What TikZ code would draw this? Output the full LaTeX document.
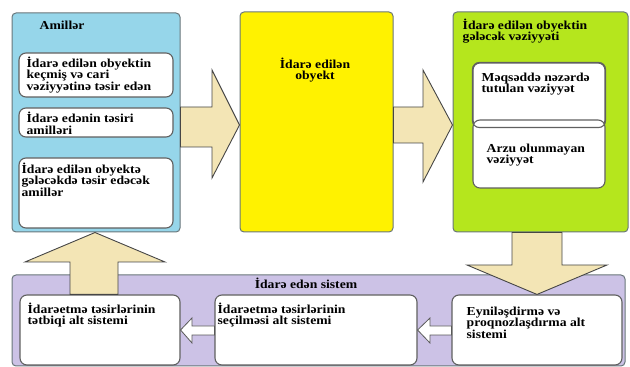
\documentclass[tikz,border=0pt]{standalone}
\usepackage{fontspec}
\setmainfont{Liberation Serif}
\newfontfamily\diagfont[FakeStretch=1.12]{Liberation Serif}
\usetikzlibrary{calc}

\definecolor{amilblue}{RGB}{150,214,234}
\definecolor{objyellow}{RGB}{255,242,0}
\definecolor{futgreen}{RGB}{181,230,29}
\definecolor{syslilac}{RGB}{204,194,230}
\definecolor{arrowtan}{RGB}{243,229,181}
\definecolor{edgegray}{RGB}{105,118,122}

\tikzset{
	outerbox/.style={draw=edgegray, line width=1pt, rounded corners=4pt, inner sep=0pt},
	innerbox/.style={draw=gray!75!black, line width=1.1pt, fill=white, rounded corners=7pt, inner sep=0pt},
	txt/.style={font=\diagfont\bfseries\fontsize{12.2}{11.6}\selectfont, align=left, inner sep=0pt, anchor=north west},
	bigarrow/.style={draw=gray!55!black, fill=arrowtan, line width=0.9pt},
	smallarrow/.style={draw=gray!70!black, fill=white, line width=0.8pt}
}

\begin{document}
\begin{tikzpicture}[x=1pt,y=1pt]
	\useasboundingbox (0,0) rectangle (630,367);

	% top row
	\node[outerbox, fill=amilblue, minimum width=168, minimum height=219] (amil) at (96,244.5) {};
	\node[outerbox, fill=objyellow, minimum width=153, minimum height=220] (obj) at (316.5,245) {};
	\node[outerbox, fill=futgreen, minimum width=175, minimum height=220] (fut) at (540.5,245) {};

	\node[txt] (amil_t) at ([shift={(28,-8)}]amil.north west) {Amillər};
	\node[innerbox, minimum width=154, minimum height=44] (f_1) at (96,292) {};
	\node[innerbox, minimum width=154, minimum height=29] (f_2) at (96,244.5) {};
	\node[innerbox, minimum width=154, minimum height=70] (f_3) at (96,174) {};
	\node[txt] (f_1t) at ([shift={(8,-4)}]f_1.north west) {İdarə edilən obyektin\\keçmiş və cari\\vəziyyətinə təsir edən};
	\node[txt] (f_2t) at ([shift={(8,-4.5)}]f_2.north west) {İdarə edənin təsiri\\amilləri};
	\node[txt] (f_3t) at ([shift={(3,-5)}]f_3.north west) {İdarə edilən obyektə\\gələcəkdə təsir edəcək\\amillər};

	\node[txt, anchor=north, align=center] (obj_t) at ([shift={(-1.5,-46)}]obj.north) {İdarə edilən\\obyekt};

	\node[txt] (fut_t) at ([shift={(10,-7)}]fut.north west) {İdarə edilən obyektin\\gələcək vəziyyəti};
	\node[innerbox, minimum width=132, minimum height=64] (g_1) at (539,272) {};
	\node[innerbox, minimum width=132, minimum height=68] (g_2) at (539,213) {};
	\draw[innerbox, fill=none] (g_1.south west) rectangle (g_1.north east);
	\node[txt] (g_1t) at ([shift={(9,-10)}]g_1.north west) {Məqsəddə nəzərdə\\tutulan vəziyyət};
	\node[txt] (g_2t) at ([shift={(14,-24)}]g_2.north west) {Arzu olunmayan\\vəziyyət};

	% bottom row
	\node[outerbox, fill=syslilac, minimum width=613, minimum height=91] (sys) at (318.5,46.5) {};
	\node[txt, anchor=center] (sys_t) at ([shift={(-12.5,-8.5)}]sys.north) {İdarə edən sistem};
	\node[innerbox, minimum width=160, minimum height=70] (b_a) at (100,37) {};
	\node[innerbox, minimum width=202, minimum height=70] (b_b) at (316,37) {};
	\node[innerbox, minimum width=170, minimum height=70] (b_c) at (537,37) {};
	\node[txt] (b_at) at ([shift={(8,-8)}]b_a.north west) {İdarəetmə təsirlərinin\\tətbiqi alt sistemi};
	\node[txt] (b_bt) at ([shift={(3,-8)}]b_b.north west) {İdarəetmə təsirlərinin\\seçilməsi alt sistemi};
	\node[txt] (b_ct) at ([shift={(15,-12)}]b_c.north west) {Eyniləşdirmə və\\proqnozlaşdırma alt\\sistemi};

	% arrows
	\draw[smallarrow] (b_b.west |- 0,41) -- (192,41) -- (192,49) -- (b_a.east |- 0,37) -- (192,24) -- (192,32) -- (b_b.west |- 0,32) -- cycle;
	\draw[smallarrow] (b_c.west |- 0,41) -- (430,41) -- (430,49) -- (b_b.east |- 0,37) -- (430,24) -- (430,32) -- (b_c.west |- 0,32) -- cycle;
	\draw[bigarrow] (amil.east |- 0,260) -- (212,260) -- (212,297) -- (obj.west |- 0,242) -- (212,189) -- (212,220) -- (amil.east |- 0,220) -- cycle;
	\draw[bigarrow] (obj.east |- 0,260) -- (423,260) -- (423,297) -- (fut.west |- 0,242) -- (423,185) -- (423,224) -- (obj.east |- 0,224) -- cycle;
	\draw[bigarrow] (fut.south -| 512,0) -- (512,102) -- (467,102) -- (b_c.north) -- (607,102) -- (562,102) -- (fut.south -| 562,0) -- cycle;
	\draw[bigarrow] (b_a.north -| 70,0) -- (70,105) -- (25,105) -- (amil.south -| 95,0) -- (165,105) -- (118,105) -- (b_a.north -| 118,0) -- cycle;
\end{tikzpicture}
\end{document}
